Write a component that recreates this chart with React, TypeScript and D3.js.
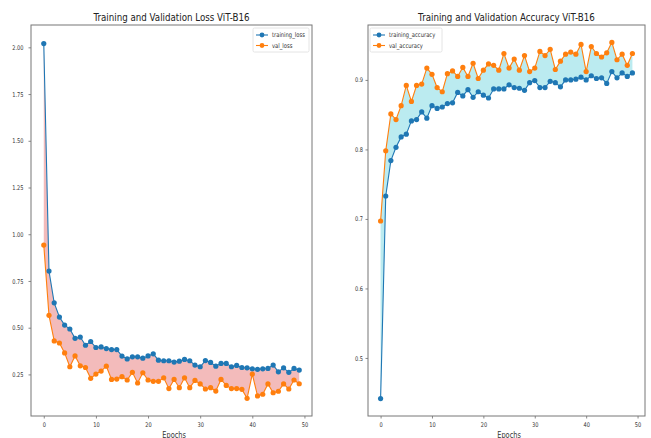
import React, { useEffect, useRef } from 'react';
import * as d3 from 'd3';

// epochs 0..49
const epochs = d3.range(0, 50);

const trainingLoss = [
  2.02, 0.803, 0.633, 0.557, 0.514, 0.493, 0.443, 0.450, 0.406, 0.426,
  0.394, 0.397, 0.388, 0.383, 0.383, 0.348, 0.333, 0.344, 0.344, 0.337,
  0.349, 0.360, 0.326, 0.323, 0.323, 0.316, 0.321, 0.330, 0.323, 0.300,
  0.291, 0.324, 0.314, 0.294, 0.309, 0.309, 0.291, 0.298, 0.287, 0.285,
  0.280, 0.277, 0.280, 0.282, 0.300, 0.264, 0.285, 0.261, 0.282, 0.273
];

const valLoss = [
  0.942, 0.566, 0.429, 0.418, 0.365, 0.291, 0.349, 0.296, 0.287, 0.229,
  0.252, 0.268, 0.294, 0.223, 0.225, 0.238, 0.220, 0.261, 0.204, 0.259,
  0.220, 0.213, 0.213, 0.232, 0.174, 0.223, 0.179, 0.232, 0.179, 0.218,
  0.199, 0.172, 0.179, 0.161, 0.223, 0.191, 0.174, 0.174, 0.170, 0.122,
  0.252, 0.135, 0.144, 0.199, 0.152, 0.160, 0.199, 0.172, 0.220, 0.200
];

const trainingAcc = [
  0.4415, 0.733, 0.784, 0.803, 0.818, 0.822, 0.841, 0.843, 0.854, 0.845,
  0.863, 0.859, 0.861, 0.866, 0.867, 0.882, 0.877, 0.886, 0.875, 0.883,
  0.878, 0.874, 0.887, 0.887, 0.887, 0.893, 0.889, 0.888, 0.885, 0.896,
  0.899, 0.889, 0.889, 0.898, 0.896, 0.890, 0.900, 0.900, 0.901, 0.904,
  0.900, 0.906, 0.902, 0.903, 0.895, 0.912, 0.903, 0.910, 0.905, 0.910
];

const valAcc = [
  0.697, 0.798, 0.851, 0.843, 0.863, 0.892, 0.869, 0.892, 0.894, 0.917,
  0.908, 0.889, 0.883, 0.909, 0.913, 0.905, 0.918, 0.905, 0.924, 0.902,
  0.914, 0.923, 0.921, 0.914, 0.938, 0.917, 0.930, 0.914, 0.935, 0.912,
  0.917, 0.941, 0.935, 0.944, 0.915, 0.927, 0.937, 0.940, 0.937, 0.951,
  0.912, 0.948, 0.938, 0.933, 0.939, 0.954, 0.929, 0.937, 0.921, 0.938
];

const xTicks = [0, 10, 20, 30, 40, 50];
const lossTicks = [0.25, 0.5, 0.75, 1.0, 1.25, 1.5, 1.75, 2.0];
const accTicks = [0.5, 0.6, 0.7, 0.8, 0.9];

const BLUE = '#1f77b4';
const ORANGE = '#ff7f0e';
const FONT = 'DejaVu Sans, sans-serif';
// the source picture is squeezed sideways, so all text is narrowed a bit
const SQUEEZE = 0.79;

function drawPanel(svg, opts) {
  var { left, right, top, bottom, yDomain, yTicks, yFmt, train, val, fill,
    title, names, legendX, yPad } = opts;

  var x = d3.scaleLinear().domain([-2.45, 51.45]).range([left, right]);
  var y = d3.scaleLinear().domain(yDomain).range([bottom, top]);

  var g = svg.append('g');

  // filled band between the two curves
  var area = d3.area()
    .x(function (d, i) { return x(epochs[i]); })
    .y0(function (d, i) { return y(train[i]); })
    .y1(function (d, i) { return y(val[i]); });
  g.append('path')
    .datum(train)
    .attr('d', area)
    .attr('fill', fill)
    .attr('stroke', 'none');

  var line = d3.line()
    .x(function (d, i) { return x(epochs[i]); })
    .y(function (d) { return y(d); });

  [[train, BLUE], [val, ORANGE]].forEach(function (s) {
    g.append('path')
      .datum(s[0])
      .attr('d', line)
      .attr('fill', 'none')
      .attr('stroke', s[1])
      .attr('stroke-width', 1.1);
    g.selectAll(null)
      .data(s[0])
      .enter().append('circle')
      .attr('cx', function (d, i) { return x(epochs[i]); })
      .attr('cy', function (d) { return y(d); })
      .attr('r', 2.6)
      .attr('fill', s[1]);
  });

  // axes
  var xAxis = d3.axisBottom(x).tickValues(xTicks).tickSize(2.5).tickPadding(4)
    .tickFormat(d3.format('d'));
  var gx = svg.append('g').attr('transform', 'translate(0,' + bottom + ')').call(xAxis);
  var yAxis = d3.axisLeft(y).tickValues(yTicks).tickSize(2.5).tickPadding(yPad)
    .tickFormat(yFmt);
  var gy = svg.append('g').attr('transform', 'translate(' + left + ',0)').call(yAxis);
  [gx, gy].forEach(function (a) {
    a.select('.domain').remove();
    a.selectAll('line').attr('stroke', '#555').attr('stroke-width', 0.7);
    a.selectAll('text').attr('font-family', FONT).attr('font-size', 6.4).attr('fill', '#333');
  });

  // frame
  svg.append('rect')
    .attr('x', left).attr('y', top)
    .attr('width', right - left).attr('height', bottom - top)
    .attr('fill', 'none')
    .attr('stroke', '#777')
    .attr('stroke-width', 1);

  svg.append('text')
    .attr('x', (left + right) / 2).attr('y', 20.5)
    .attr('text-anchor', 'middle')
    .attr('font-family', FONT).attr('font-size', 11).attr('fill', '#222')
    .text(title);

  svg.append('text')
    .attr('x', (x(0) + x(50)) / 2).attr('y', 437.5)
    .attr('text-anchor', 'middle')
    .attr('font-family', FONT).attr('font-size', 8.4).attr('fill', '#333')
    .text('Epochs');

  // legend
  var lw = opts.legendW;
  var lg = svg.append('g').attr('transform', 'translate(' + legendX + ',' + (top + 3) + ')');
  lg.append('rect')
    .attr('width', lw).attr('height', 24).attr('rx', 1.5)
    .attr('fill', 'white').attr('stroke', '#ddd').attr('stroke-width', 0.8);
  names.forEach(function (n, i) {
    var c = i === 0 ? BLUE : ORANGE;
    var yy = 7 + i * 10.5;
    lg.append('line')
      .attr('x1', 3).attr('x2', 15).attr('y1', yy).attr('y2', yy)
      .attr('stroke', c).attr('stroke-width', 1.1);
    lg.append('circle').attr('cx', 9).attr('cy', yy).attr('r', 2.4).attr('fill', c);
    lg.append('text')
      .attr('x', 19).attr('y', yy + 2.2)
      .attr('font-family', FONT).attr('font-size', 6.6).attr('fill', '#333')
      .text(n);
  });
}

export default function App() {
  const ref = useRef(null);

  useEffect(function () {
    var svg = d3.select(ref.current);
    svg.selectAll('*').remove();

    drawPanel(svg, {
      left: 31, right: 312, top: 25, bottom: 416,
      yDomain: [0.0275, 2.1195],
      yTicks: lossTicks,
      yFmt: d3.format('.2f'),
      yPad: 5,
      train: trainingLoss, val: valLoss,
      fill: 'rgba(232,120,120,0.5)',
      title: 'Training and Validation Loss ViT-B16',
      names: ['training_loss', 'val_loss'],
      legendX: 253, legendW: 56
    });

    drawPanel(svg, {
      left: 368, right: 645, top: 25, bottom: 416,
      yDomain: [0.4165, 0.979],
      yTicks: accTicks,
      yFmt: d3.format('.1f'),
      yPad: 2.5,
      train: trainingAcc, val: valAcc,
      fill: 'rgba(120,215,225,0.5)',
      title: 'Training and Validation Accuracy ViT-B16',
      names: ['training_accuracy', 'val_accuracy'],
      legendX: 370, legendW: 72
    });

    // narrow every label to match the squeezed look of the source
    svg.selectAll('text').each(function () {
      var w = this.getComputedTextLength();
      d3.select(this)
        .attr('textLength', w * SQUEEZE)
        .attr('lengthAdjust', 'spacingAndGlyphs');
    });
  }, []);

  return (
    <svg ref={ref} width={651} height={438}
      style={{ position: 'absolute', left: 0, top: 0, background: 'white' }} />
  );
}
